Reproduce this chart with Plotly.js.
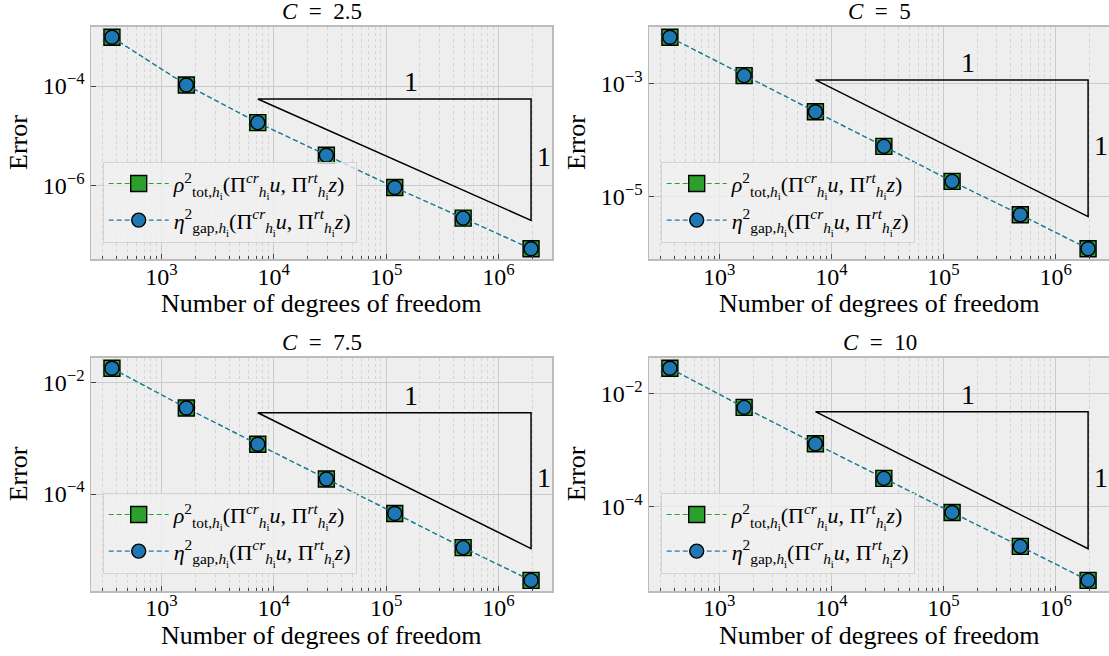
<!DOCTYPE html>
<html><head><meta charset="utf-8">
<script src="https://cdn.plot.ly/plotly-3.0.1.min.js"></script>
<style>html,body{margin:0;padding:0;background:#fff;overflow:hidden}</style>
</head><body><div id="chart" style="width:1109px;height:656px"></div>
<script>
// ---------------- data ----------------
const dofs = [363, 1667, 7210, 29400, 119400, 485000, 1950000];
const panelTitles = ['<i>C</i>\u2002=\u20022.5', '<i>C</i>\u2002=\u20025', '<i>C</i>\u2002=\u20027.5', '<i>C</i>\u2002=\u200210'];
const rhoC25 = [9.5e-4, 1.05e-4, 1.85e-5, 4.1e-6, 9.3e-7, 2.26e-7, 5.5e-8];
const etaC25 = [9.5e-4, 1.05e-4, 1.85e-5, 4.1e-6, 9.3e-7, 2.26e-7, 5.5e-8];
const rhoC5  = [6.78e-3, 1.41e-3, 3.21e-4, 7.76e-5, 1.85e-5, 4.72e-6, 1.17e-6];
const etaC5  = [6.78e-3, 1.41e-3, 3.21e-4, 7.76e-5, 1.85e-5, 4.72e-6, 1.17e-6];
const rhoC75 = [1.78e-2, 3.46e-3, 7.8e-4, 1.86e-4, 4.5e-5, 1.1e-5, 2.85e-6];
const etaC75 = [1.78e-2, 3.46e-3, 7.8e-4, 1.86e-4, 4.5e-5, 1.1e-5, 2.85e-6];
const rhoC10 = [2.82e-2, 5.71e-3, 1.29e-3, 3.14e-4, 7.8e-5, 1.95e-5, 4.85e-6];
const etaC10 = [2.82e-2, 5.71e-3, 1.29e-3, 3.14e-4, 7.8e-5, 1.95e-5, 4.85e-6];
const triangleTop = [5.5e-5, 1.18e-3, 2.85e-3, 4.79e-3];
const yTickExps = [[-6, -4], [-5, -3], [-4, -2], [-4, -2]];
const xTickExps = [3, 4, 5, 6];
const rhoName = '<i>ρ</i><sup>2</sup><sub>tot,<i>h</i><sub>i</sub></sub>(Π<sup><i>cr</i></sup><sub><i>h</i><sub>i</sub></sub><i>u</i>, Π<sup><i>rt</i></sup><sub><i>h</i><sub>i</sub></sub><i>z</i>)';
const etaName = '<i>η</i><sup>2</sup><sub>gap,<i>h</i><sub>i</sub></sub>(Π<sup><i>cr</i></sup><sub><i>h</i><sub>i</sub></sub><i>u</i>, Π<sup><i>rt</i></sup><sub><i>h</i><sub>i</sub></sub><i>z</i>)';
const xTitle = 'Number of degrees of freedom';
const yTitle = 'Error';

const rhoSeries = [rhoC25, rhoC5, rhoC75, rhoC10];
const etaSeries = [etaC25, etaC5, etaC75, etaC10];

// ---------------- layout helpers ----------------
const W = 1109, H = 656;
const FONT = 'Liberation Serif, Times New Roman, serif';
const colX = [[91, 552], [649, 1110]];
const rowY = [[26.7, 259.3], [357.7, 591]];
const sup = e => '10<sup>' + (e < 0 ? '−' + (-e) : e) + '</sup>';
const log = Math.log10;

function padRange(arr) {
  const lo = log(Math.min(...arr)), hi = log(Math.max(...arr));
  const m = 0.05 * (hi - lo);
  return [lo - m, hi + m];
}

const minorX = [];
for (let e = 2; e <= 6; e++) for (let k = 2; k <= 9; k++) minorX.push(k * Math.pow(10, e));

const data = [];
const layout = {
  width: W, height: H,
  margin: {l: 0, r: 0, t: 0, b: 0},
  paper_bgcolor: '#ffffff',
  plot_bgcolor: '#eeeeee',
  font: {family: FONT, color: '#000', size: 20},
  showlegend: true,
  annotations: []
};

for (let p = 0; p < 4; p++) {
  const col = p % 2, row = Math.floor(p / 2);
  const sfx = p === 0 ? '' : String(p + 1);
  const xa = 'x' + sfx, ya = 'y' + sfx;
  const legName = 'legend' + sfx;
  const x0 = colX[col][0], x1 = colX[col][1];
  const y0 = rowY[row][0], y1 = rowY[row][1];
  const dx = [x0 / W, Math.min(1, x1 / W)];
  const dy = [1 - y1 / H, 1 - y0 / H];

  // triangle from data anchors
  const t = triangleTop[p];
  const xa0 = dofs[2], xa1 = dofs[dofs.length - 1];
  const tBottom = t * xa0 / xa1;
  data.push({
    x: [xa0, xa1, xa1, xa0], y: [t, t, tBottom, t],
    xaxis: xa, yaxis: ya, mode: 'lines', showlegend: false, hoverinfo: 'skip',
    line: {color: '#000', width: 1.5}
  });
  data.push({
    x: dofs, y: rhoSeries[p], xaxis: xa, yaxis: ya, name: rhoName, legend: legName, legendgroup: 'rho' + p,
    mode: 'lines+markers',
    line: {color: '#2ca02c', width: 1.2, dash: '5px,3px'},
    marker: {symbol: 'square', size: 16, color: '#2ca02c', line: {color: '#000', width: 1.4}}
  });
  data.push({
    x: dofs, y: etaSeries[p], xaxis: xa, yaxis: ya, name: etaName, legend: legName, legendgroup: 'eta' + p,
    mode: 'lines+markers',
    line: {color: '#1f77b4', width: 1.2, dash: '5px,3px'},
    marker: {symbol: 'circle', size: 14, color: '#1f77b4', line: {color: '#000', width: 1.4}}
  });

  const yr = padRange(rhoSeries[p].concat(etaSeries[p]));
  layout['xaxis' + sfx] = {
    type: 'log', domain: dx, anchor: ya, range: padRange(dofs),
    tickmode: 'array', tickvals: xTickExps.map(e => Math.pow(10, e)), ticktext: xTickExps.map(sup),
    ticks: 'inside', ticklen: 5, tickwidth: 1, tickcolor: '#444',
    tickfont: {family: FONT, size: 24}, ticklabelstandoff: -5,
    showgrid: true, gridcolor: '#cbcbcb', gridwidth: 1,
    showline: true, linecolor: '#bcbcbc', linewidth: 1.5, mirror: true, zeroline: false,
    minor: {tickmode: 'array', tickvals: minorX, ticks: 'inside', ticklen: 3, tickcolor: '#444', tickwidth: 1,
            showgrid: true, gridcolor: '#d4d4d4', griddash: 'dot', gridwidth: 1}
  };
  layout['yaxis' + sfx] = {
    type: 'log', domain: dy, anchor: xa, range: yr,
    tickmode: 'array', tickvals: yTickExps[p].map(e => Math.pow(10, e)), ticktext: yTickExps[p].map(sup),
    ticks: 'inside', ticklen: 5, tickwidth: 1, tickcolor: '#444',
    tickfont: {family: FONT, size: 24},
    showgrid: true, gridcolor: '#cbcbcb', gridwidth: 1,
    showline: true, linecolor: '#bcbcbc', linewidth: 1.5, mirror: true, zeroline: false
  };
  layout[legName] = {
    x: (x0 + 11.7) / W, y: 1 - (y0 + 135) / H, xanchor: 'left', yanchor: 'top',
    bgcolor: 'rgba(240,240,240,0.8)', bordercolor: '#d3d3d3', borderwidth: 1,
    font: {family: FONT, size: 22}, itemwidth: 60, tracegroupgap: 5
  };
  // panel title
  layout.annotations.push({
    text: panelTitles[p], xref: 'paper', yref: 'paper', x: (x0 + 230.5) / W, y: 1 - (y0 - 15.5) / H,
    xanchor: 'center', yanchor: 'middle', showarrow: false,
    font: {family: FONT, size: 23}
  });
  // axis titles
  layout.annotations.push({
    text: xTitle, xref: 'paper', yref: 'paper', x: (x0 + 230.5) / W, y: 1 - (y1 + 44) / H,
    xanchor: 'center', yanchor: 'middle', showarrow: false,
    font: {family: FONT, size: 26}
  });
  layout.annotations.push({
    text: yTitle, xref: 'paper', yref: 'paper', x: (x0 - 73) / W, y: (dy[0] + dy[1]) / 2,
    xanchor: 'center', yanchor: 'middle', textangle: -90, showarrow: false,
    font: {family: FONT, size: 26}
  });
  // slope triangle labels
  const lx0 = log(xa0), lx1 = log(xa1);
  layout.annotations.push({
    text: '1', xref: xa, yref: ya, x: lx0 + 0.56 * (lx1 - lx0), y: log(t),
    yanchor: 'bottom', xanchor: 'center', yshift: 0, showarrow: false,
    font: {family: FONT, size: 28}
  });
  layout.annotations.push({
    text: '1', xref: xa, yref: ya, x: lx1, y: (log(t) + log(tBottom)) / 2,
    xanchor: 'left', yanchor: 'middle', xshift: 4, yshift: 3, showarrow: false,
    font: {family: FONT, size: 28}
  });
}

Plotly.newPlot('chart', data, layout, {staticPlot: true, displayModeBar: false});
</script></body></html>
